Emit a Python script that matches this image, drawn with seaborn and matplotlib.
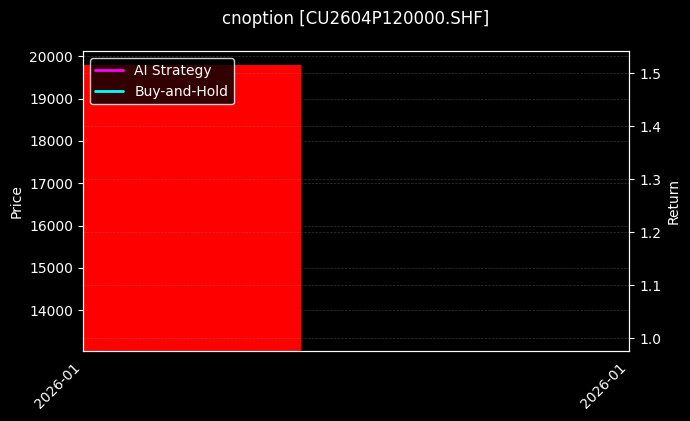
import numpy as np
import pandas as pd
import matplotlib
matplotlib.use("Agg")
import matplotlib.pyplot as plt
import matplotlib.dates as mdates
import seaborn as sns

# data
dates = pd.to_datetime(["2026-01-05"])
price_close = [19800]
ai_strategy = [1.0]
buy_hold = [1.0]

title = "cnoption [CU2604P120000.SHF]"

sns.set_style("dark", {"axes.facecolor": "black", "figure.facecolor": "black"})
plt.style.use("dark_background")
plt.rcParams["font.family"] = ["DejaVu Sans"]
plt.rcParams["text.color"] = "white"
plt.rcParams["axes.labelcolor"] = "white"

fig, ax = plt.subplots(figsize=(6.9, 4.21), dpi=100)
fig.patch.set_facecolor("black")
ax.set_facecolor("black")

x = mdates.date2num(dates)
ax.bar(x, price_close, width=0.8, color="red", linewidth=0, zorder=2)
ax.set_ylim(13030, 20120)
ax.set_xlim(x[0] - 0.4, x[0] + 1.6)
ax.set_ylabel("Price", color="white")
ax.grid(True, color="gray", linestyle="--", linewidth=0.5, alpha=0.4)

ax2 = ax.twinx()
df = pd.DataFrame({"date": x, "AI Strategy": ai_strategy, "Buy-and-Hold": buy_hold})
sns.lineplot(data=df, x="date", y="AI Strategy", ax=ax2, color="magenta", linewidth=2, label="AI Strategy")
sns.lineplot(data=df, x="date", y="Buy-and-Hold", ax=ax2, color="cyan", linewidth=2, label="Buy-and-Hold")
ax2.set_ylim(0.9755, 1.5415)
ax2.set_ylabel("Return", color="white")
ax2.grid(True, color="gray", linestyle="--", linewidth=0.5, alpha=0.4)
ax2.set_xlim(x[0] - 0.4, x[0] + 1.6)

ax.set_xticks([x[0] - 0.4, x[0] + 1.6])
ax.xaxis.set_major_formatter(mdates.DateFormatter("%Y-%m"))
plt.setp(ax.get_xticklabels(), rotation=45, ha="right")

for a in (ax, ax2):
    for s in a.spines.values():
        s.set_color("white")
    a.tick_params(colors="white", length=3.5, width=0.8)

leg = ax2.legend(loc="upper left", facecolor="black", edgecolor="white", framealpha=0.8)
for t in leg.get_texts():
    t.set_color("white")
ax.set_xlabel("")
ax2.set_xlabel("")

ax2.set_title(title, color="white", fontsize=12, pad=20)
fig.subplots_adjust(left=0.12, right=0.912, top=0.878, bottom=0.166)
fig.savefig("out.png", dpi=100, facecolor="black")
